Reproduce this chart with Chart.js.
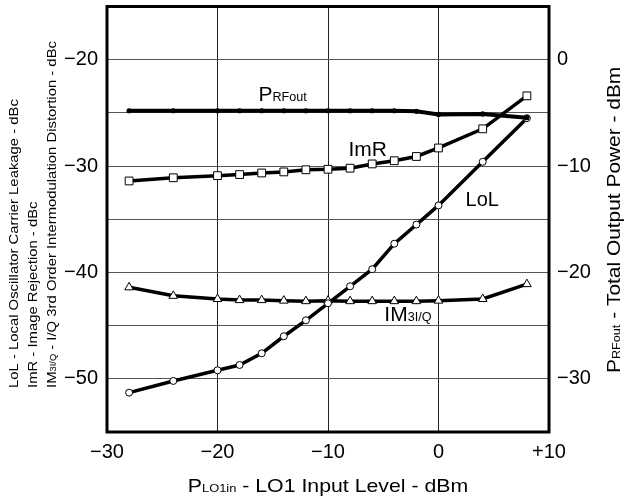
<!DOCTYPE html>
<html>
<head>
<meta charset="utf-8">
<script src="https://cdn.jsdelivr.net/npm/chart.js@4.4.1/dist/chart.umd.min.js"></script>
<style>
  html, body { margin: 0; padding: 0; background: #fff; }
  canvas { display: block; }
</style>
</head>
<body>
<canvas id="chart" width="628" height="500"></canvas>
<script>
'use strict';

// LO1 input level (dBm), shared by all four curves
const inputLevels = [-28, -24, -20, -18, -16, -14, -12, -10, -8, -6, -4, -2, 0, 4, 8];
// left axis, dBc
const lolValues = [-51.3, -50.2, -49.2, -48.7, -47.6, -46.0, -44.5, -42.9, -41.3, -39.7, -37.3, -35.5, -33.7, -29.6, -25.5];
const imrValues = [-31.4, -31.1, -30.9, -30.8, -30.65, -30.55, -30.35, -30.3, -30.2, -29.8, -29.5, -29.1, -28.3, -26.5, -23.4];
const im3Values = [-41.4, -42.2, -42.5, -42.6, -42.6, -42.65, -42.7, -42.65, -42.7, -42.7, -42.7, -42.7, -42.65, -42.5, -41.1];
// right axis, dBm
const pOutValues = [-4.8, -4.8, -4.8, -4.8, -4.8, -4.8, -4.8, -4.8, -4.8, -4.8, -4.8, -4.85, -5.15, -5.1, -5.45];

const xTicks = [-30, -20, -10, 0, 10];
const leftTicks = [-50, -40, -30, -20];
const rightTicks = [-30, -20, -10, 0];

const FONT = "'Liberation Sans', Arial, Helvetica, sans-serif";

function fmt(v) {
  if (v > 0) return '+' + v;
  if (v < 0) return '\u2212' + Math.abs(v);
  return '0';
}

function points(ys) {
  return inputLevels.map((x, i) => ({ x: x, y: ys[i] }));
}

// draws text made of pieces (main text + subscripts), optionally rotated and stretched
function drawRich(ctx, parts, x, y, rot, sx, align) {
  ctx.save();
  ctx.translate(x, y);
  ctx.rotate(rot);
  ctx.scale(sx, 1);
  ctx.fillStyle = '#000';
  ctx.textBaseline = 'alphabetic';
  ctx.textAlign = 'left';
  let total = 0;
  parts.forEach(p => {
    ctx.font = p[1] + 'px ' + FONT;
    total += ctx.measureText(p[0]).width;
  });
  let cx = align === 'center' ? -total / 2 : 0;
  parts.forEach(p => {
    ctx.font = p[1] + 'px ' + FONT;
    ctx.fillText(p[0], cx, 0);
    cx += ctx.measureText(p[0]).width;
  });
  ctx.restore();
}

const labelPlugin = {
  id: 'labels',
  beforeDatasetsDraw(chart) {
    const ctx = chart.ctx;
    const a = chart.chartArea;
    ctx.save();
    ctx.lineWidth = 3;
    ctx.strokeStyle = '#000';
    ctx.strokeRect(a.left, a.top, a.right - a.left, a.bottom - a.top);
    ctx.restore();
  },
  afterDraw(chart) {
    const ctx = chart.ctx;
    const a = chart.chartArea;
    const xs = chart.scales.x;
    const ys = chart.scales.y;

    // curve labels, placed in data units
    drawRich(ctx, [['P', 20], ['RFout', 12]], xs.getPixelForValue(-16.3), ys.getPixelForValue(-23.9), 0, 1.05, 'left');
    drawRich(ctx, [['ImR', 20]], xs.getPixelForValue(-8.15), ys.getPixelForValue(-29.06), 0, 1.05, 'left');
    drawRich(ctx, [['LoL', 20]], xs.getPixelForValue(2.45), ys.getPixelForValue(-33.75), 0, 1.0, 'left');
    drawRich(ctx, [['IM', 20], ['3I/Q', 12]], xs.getPixelForValue(-4.9), ys.getPixelForValue(-44.6), 0, 1.05, 'left');

    // x axis title
    drawRich(ctx, [['P', 19], ['LO1in', 11.5], [' - LO1 Input Level - dBm', 19]], (a.left + a.right) / 2, 492, 0, 1.12, 'center');

    // right axis title
    drawRich(ctx, [['P', 19], ['RFout', 11.5], [' - Total Output Power - dBm', 19]], 620, 373, -Math.PI / 2, 1.1, 'left');

    // left axis titles, three lines
    drawRich(ctx, [['LoL - Local Oscillator Carrier Leakage - dBc', 13.5]], 18, 388, -Math.PI / 2, 1.1, 'left');
    drawRich(ctx, [['ImR - Image Rejection - dBc', 13.5]], 37, 388, -Math.PI / 2, 1.1, 'left');
    drawRich(ctx, [['IM', 13.5], ['3I/Q', 8.5], [' - I/Q 3rd Order Intermodulation Distortion - dBc', 13.5]], 56, 388, -Math.PI / 2, 1.1, 'left');
  }
};

const tickFont = { family: FONT, size: 20 };

new Chart(document.getElementById('chart'), {
  type: 'line',
  data: {
    datasets: [
      {
        label: 'PRFout',
        data: points(pOutValues),
        yAxisID: 'y2',
        borderColor: '#000',
        borderWidth: 4,
        pointStyle: 'circle',
        pointRadius: 2.6,
        pointBackgroundColor: '#000',
        pointBorderColor: '#000',
        pointBorderWidth: 0,
        tension: 0,
        fill: false
      },
      {
        label: 'ImR',
        data: points(imrValues),
        yAxisID: 'y',
        borderColor: '#000',
        borderWidth: 3.5,
        pointStyle: 'rect',
        pointRadius: 5.5,
        pointBackgroundColor: '#fff',
        pointBorderColor: '#000',
        pointBorderWidth: 1,
        tension: 0,
        fill: false
      },
      {
        label: 'LoL',
        data: points(lolValues),
        yAxisID: 'y',
        borderColor: '#000',
        borderWidth: 3.5,
        pointStyle: 'circle',
        pointRadius: 3.5,
        pointBackgroundColor: '#fff',
        pointBorderColor: '#000',
        pointBorderWidth: 1,
        tension: 0,
        fill: false
      },
      {
        label: 'IM3I/Q',
        data: points(im3Values),
        yAxisID: 'y',
        borderColor: '#000',
        borderWidth: 3.5,
        pointStyle: 'triangle',
        pointRadius: 5,
        pointBackgroundColor: '#fff',
        pointBorderColor: '#000',
        pointBorderWidth: 1,
        tension: 0,
        fill: false
      }
    ]
  },
  options: {
    responsive: false,
    animation: false,
    events: [],
    layout: { padding: { top: 5, left: 0, right: 0, bottom: 0 } },
    plugins: {
      legend: { display: false },
      tooltip: { enabled: false },
      title: { display: false }
    },
    scales: {
      x: {
        type: 'linear',
        min: -30,
        max: 10,
        ticks: {
          stepSize: 10,
          color: '#000',
          font: tickFont,
          padding: 8,
          maxRotation: 0,
          callback: v => xTicks.includes(v) ? fmt(v) : ''
        },
        grid: { color: '#222', lineWidth: 1, drawTicks: false },
        border: { display: false },
        afterFit: s => { s.height = 68; s.paddingLeft = 0; s.paddingRight = 0; }
      },
      y: {
        position: 'left',
        min: -55,
        max: -15,
        ticks: {
          stepSize: 5,
          color: '#000',
          font: tickFont,
          padding: 9,
          callback: v => leftTicks.includes(v) ? fmt(v) : ''
        },
        grid: { color: '#555', lineWidth: 1, drawTicks: false },
        border: { display: false },
        afterFit: s => { s.width = 107; s.paddingTop = 0; s.paddingBottom = 0; }
      },
      y2: {
        position: 'right',
        min: -35,
        max: 5,
        ticks: {
          stepSize: 5,
          color: '#000',
          font: tickFont,
          padding: 8,
          callback: v => rightTicks.includes(v) ? fmt(v) : ''
        },
        grid: { display: false, drawTicks: false },
        border: { display: false },
        afterFit: s => { s.width = 79; s.paddingTop = 0; s.paddingBottom = 0; }
      }
    }
  },
  plugins: [labelPlugin]
});
</script>
</body>
</html>
